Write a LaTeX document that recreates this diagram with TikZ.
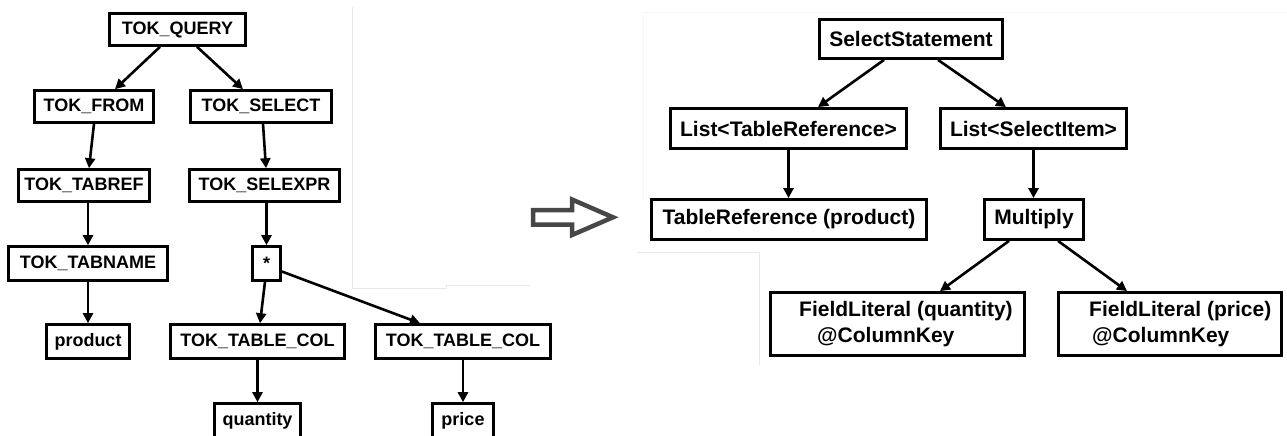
\documentclass[tikz,border=0pt]{standalone}
\usepackage{fontspec}
\setmainfont{Liberation Sans}
\usetikzlibrary{arrows.meta}
\newcommand\tokfont{\fontsize{18}{21}\selectfont\bfseries}
\newcommand\astfont{\fontsize{21}{25}\selectfont\bfseries}
\tikzset{
  lbox/.style={draw, line width=2.6pt, inner sep=0pt, font=\tokfont},
  rbox/.style={draw, line width=2.8pt, inner sep=0pt, font=\astfont},
  txt/.style={inner sep=0pt, anchor=west, font=\astfont},
  arr/.style={line width=2.6pt, -{Triangle[length=10pt,width=10pt]}},
  faint/.style={line width=1pt, gray!18},
  fainter/.style={line width=1pt, gray!6},
  bigarrow/.style={line width=4.5pt, draw=black!72, line join=miter, fill=white},
}
\begin{document}
\begin{tikzpicture}[x=1pt,y=-1pt]
\useasboundingbox (0,0) rectangle (1287,436);
\clip (0,0) rectangle (1287,436);

% thin panel borders
\draw[faint] (352,7) -- (352,288) -- (446,288) -- (446,285) -- (530,285);
\draw[fainter] (643,200) -- (643,13) -- (1287,13);
\draw[faint] (637,252) -- (759,252) -- (759,365);

% parse tree of tokens
\node[lbox, minimum width=136pt, minimum height=32pt] (q) at (177.5,29.5) {TOK\_QUERY};
\node[lbox, minimum width=119pt, minimum height=32pt] (from) at (94,106.5) {TOK\_FROM};
\node[lbox, minimum width=141pt, minimum height=32pt] (select) at (261,106.5) {TOK\_SELECT};
\node[lbox, minimum width=131pt, minimum height=32pt] (tabref) at (84,185.5) {TOK\_TABREF};
\node[lbox, minimum width=150pt, minimum height=32pt] (selexpr) at (264.5,185.5) {TOK\_SELEXPR};
\node[lbox, minimum width=159pt, minimum height=34pt] (tabname) at (88,263.5) {TOK\_TABNAME};
\node[lbox, minimum width=28pt, minimum height=34pt] (star) at (266.5,263.5) {*};
\node[lbox, minimum width=83pt, minimum height=34pt] (product) at (88,341.5) {product};
\node[lbox, minimum width=174pt, minimum height=34pt] (col1) at (257.5,341.5) {TOK\_TABLE\_COL};
\node[lbox, minimum width=175pt, minimum height=34pt] (col2) at (463,341.5) {TOK\_TABLE\_COL};
\node[lbox, minimum width=86pt, minimum height=34pt] (quantity) at (257.5,420.5) {quantity};
\node[lbox, minimum width=61pt, minimum height=34pt] (price) at (463,420.5) {price};

\draw[arr] ([xshift=-17.5pt]q.south) -- ([xshift=21pt]from.north);
\draw[arr] ([xshift=19.5pt]q.south) -- ([xshift=-18pt]select.north);
\draw[arr] (from.south) -- ([xshift=5pt]tabref.north);
\draw[arr] ([xshift=2pt]select.south) -- ([xshift=1.5pt]selexpr.north);
\draw[arr] ([xshift=4pt]tabref.south) -- (tabname.north);
\draw[arr] ([xshift=2pt]selexpr.south) -- (star.north);
\draw[arr] (tabname.south) -- (product.north);
\draw[arr] ([xshift=-1.5pt]star.south) -- ([xshift=2.5pt]col1.north);
\draw[arr] ([yshift=-8pt]star.east) -- ([xshift=-43pt]col2.north);
\draw[arr] (col1.south) -- (quantity.north);
\draw[arr] (col2.south) -- (price.north);

% transformation arrow
\draw[bigarrow] (533,210) -- (572,210) -- (572,199.5) -- (613,217.3)
  -- (572,235) -- (572,224.5) -- (533,224.5) -- cycle;

% resulting object tree
\node[rbox, minimum width=183pt, minimum height=39pt] (ss) at (911,39) {SelectStatement};
\node[rbox, minimum width=236pt, minimum height=40pt] (ltr) at (788.5,128.5) {List<TableReference>};
\node[rbox, minimum width=186pt, minimum height=40pt] (lsi) at (1033.5,128.5) {List<SelectItem>};
\node[rbox, minimum width=275pt, minimum height=40pt] (tr) at (789,219.5) {TableReference (product)};
\node[rbox, minimum width=99pt, minimum height=40pt] (mul) at (1034,219.5) {Multiply};
\node[rbox, minimum width=254pt, minimum height=63pt] (flq) at (897.5,324) {};
\node[rbox, minimum width=223pt, minimum height=63pt] (flp) at (1170,324) {};
\node[txt] (flq1) at (799,311) {FieldLiteral (quantity)};
\node[txt] (flq2) at (817,337) {@ColumnKey};
\node[txt] (flp1) at (1089,311) {FieldLiteral (price)};
\node[txt] (flp2) at (1092,337) {@ColumnKey};

\draw[arr] ([xshift=-27pt]ss.south) -- ([xshift=29.5pt]ltr.north);
\draw[arr] ([xshift=27pt]ss.south) -- ([xshift=-27.5pt]lsi.north);
\draw[arr] (ltr.south) -- (tr.north -| ltr.south);
\draw[arr] (lsi.south) -- (mul.north -| lsi.south);
\draw[arr] ([xshift=-25pt]mul.south) -- ([xshift=42.5pt]flq.north);
\draw[arr] ([xshift=24pt]mul.south) -- ([xshift=-43pt]flp.north);
\end{tikzpicture}
\end{document}
